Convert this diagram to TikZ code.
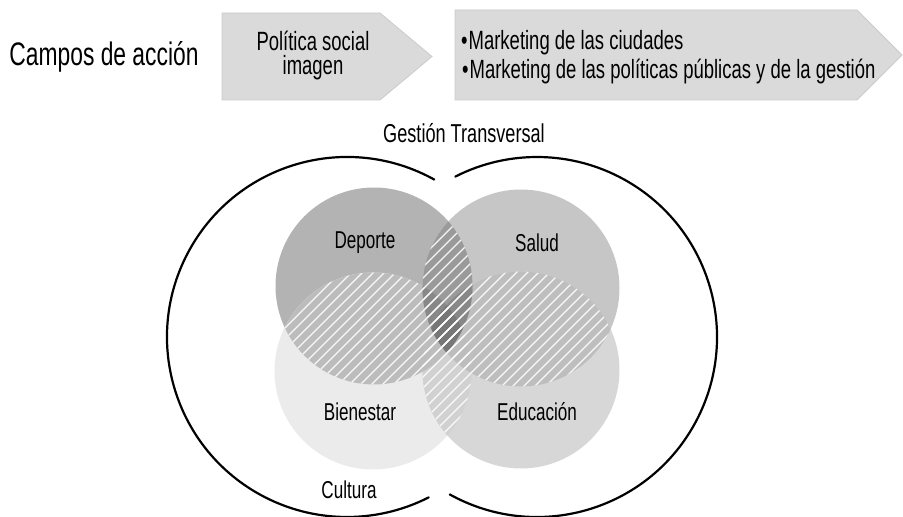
\documentclass[tikz,border=0pt]{standalone}
\usepackage{fontspec}
\setmainfont{Liberation Sans}[FakeStretch=0.7]
\definecolor{cD}{HTML}{B3B3B3}
\definecolor{cS}{HTML}{C6C6C6}
\definecolor{cB}{HTML}{EBEBEB}
\definecolor{cE}{HTML}{D7D7D7}
\definecolor{cDB}{HTML}{BCBCBC}
\definecolor{cSE}{HTML}{BEBEBE}
\definecolor{cBE}{HTML}{D1D1D1}
\definecolor{cBEx}{HTML}{BDBDBD}
\definecolor{cDS}{HTML}{9A9A9A}
\definecolor{cDSx}{HTML}{888888}
\definecolor{cAll}{HTML}{777777}
\definecolor{chevfill}{HTML}{DADADA}
\definecolor{chevline}{HTML}{CBCBCB}
\tikzset{
  outer/.style={line width=2.2pt, black, line cap=round},
  chev/.style={fill=chevfill, draw=chevline, line width=0.8pt},
  hatchline/.style={draw=white, line width=1.2pt, opacity=0.9},
  lbl/.style={font=\fontsize{24.4}{26}\selectfont, inner sep=0pt},
  toptext/.style={font=\fontsize{26.4}{24}\selectfont, inner sep=0pt},
}
\newcommand\R{98.5}
\newcommand\hatchall{\foreach \c in {-520,-509,...,900}{\draw[hatchline] (\c,0) -- ++(520,520);}}
\begin{document}
\begin{tikzpicture}[x=1pt,y=1pt]
\useasboundingbox (0,0) rectangle (903,517);
% coordinates
\coordinate (cD) at (374,231);
\coordinate (cS) at (521,229);
\coordinate (cB) at (373,146);
\coordinate (cE) at (521,147);
\coordinate (Lc) at (347,180);
\coordinate (Rc) at (537,180);

% top row
\node[font=\fontsize{32.6}{34}\selectfont, inner sep=0pt] (campos) at (104,460) {Campos de acción};
\path[chev] (222,504) -- (380,504) -- (432,460.5) -- (380,417) -- (222,417) -- cycle;
\node[toptext, align=center] (pol) at (313,461) {Política social\\imagen};
\path[chev] (455,507) -- (857,507) -- (902,462) -- (857,417) -- (455,417) -- cycle;
\node[toptext, anchor=west] (m1) at (461,474) {•\kern1pt Marketing de las ciudades};
\node[toptext, anchor=west] (m2) at (462,445) {•\kern1pt Marketing de las políticas públicas y de la gestión};

\node[font=\fontsize{25.9}{27}\selectfont, inner sep=0pt] (gest) at (464,384) {Gestión Transversal};

% base circles
\fill[cD] (cD) circle[radius=\R];
\fill[cS] (cS) circle[radius=\R];
\fill[cB] (cB) circle[radius=\R];
\fill[cE] (cE) circle[radius=\R];
% overlaps
\begin{scope}\clip (cD) circle[radius=\R]; \clip (cB) circle[radius=\R]; \fill[cDB] (0,0) rectangle (903,517);\end{scope}
\begin{scope}\clip (cS) circle[radius=\R]; \clip (cE) circle[radius=\R]; \fill[cSE] (0,0) rectangle (903,517);\end{scope}
\begin{scope}\clip (cB) circle[radius=\R]; \clip (cE) circle[radius=\R]; \fill[cBE] (0,0) rectangle (903,517);
  \clip (cD) circle[radius=\R] (cS) circle[radius=\R]; \fill[cBEx] (0,0) rectangle (903,517);\end{scope}
\begin{scope}\clip (cD) circle[radius=\R]; \clip (cS) circle[radius=\R]; \fill[cDS] (0,0) rectangle (903,517);
  \clip (cB) circle[radius=\R] (cE) circle[radius=\R]; \fill[cDSx] (0,0) rectangle (903,517);\end{scope}
\begin{scope}\clip (cD) circle[radius=\R]; \clip (cS) circle[radius=\R]; \clip (cB) circle[radius=\R]; \clip (cE) circle[radius=\R]; \fill[cAll] (0,0) rectangle (903,517);\end{scope}
% hatching
\begin{scope}\clip (cD) circle[radius=\R]; \clip (cB) circle[radius=\R]; \hatchall\end{scope}
\begin{scope}\clip (cS) circle[radius=\R]; \clip (cE) circle[radius=\R]; \hatchall\end{scope}
\begin{scope}\clip (cD) circle[radius=\R]; \clip (cS) circle[radius=\R]; \hatchall\end{scope}
\begin{scope}\clip (cB) circle[radius=\R]; \clip (cE) circle[radius=\R]; \hatchall\end{scope}

% labels
\node[lbl] (dep) at (365,274) {Deporte};
\node[lbl] (sal) at (537,274) {Salud};
\node[lbl] (bie) at (360,105) {Bienestar};
\node[lbl] (edu) at (537,105) {Educación};
\node[lbl] (cul) at (349,27) {Cultura};

% outer arcs
\draw[outer] (Lc) ++(61:180) arc[start angle=61, end angle=297, radius=180];
\draw[outer] (Rc) ++(-119:180) arc[start angle=-119, end angle=117, radius=180];
\end{tikzpicture}
\end{document}
